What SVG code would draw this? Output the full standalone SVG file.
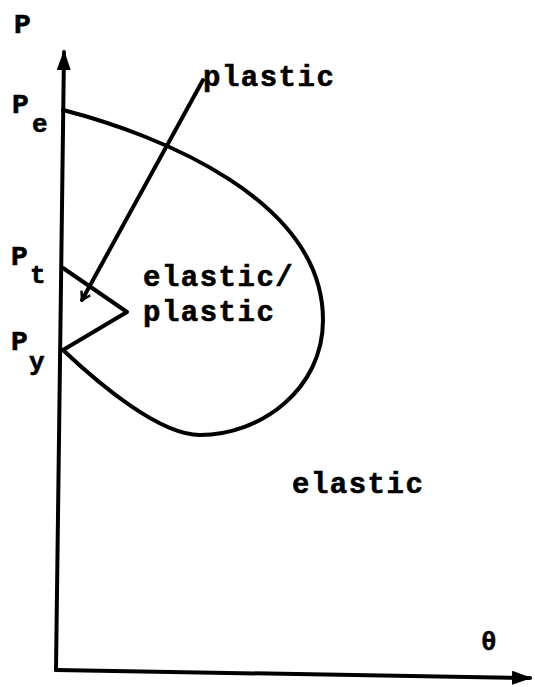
<svg xmlns="http://www.w3.org/2000/svg" width="535" height="687" viewBox="0 0 535 687">
<style>
  .ln { fill: none; stroke: #000; stroke-width: 4; stroke-linecap: round; stroke-linejoin: round; }
  .lbl { font-family: "Liberation Mono", "Courier New", monospace; font-weight: bold; fill: #000; stroke: #000; stroke-width: 0.6; }
  .big { font-size: 29px; letter-spacing: 1.5px; }
  .p { font-size: 28px; }
  .sub { font-size: 26px; }
</style>
<defs>
  <marker id="fill" viewBox="0 0 20 14" refX="18" refY="7" markerWidth="20" markerHeight="14" markerUnits="userSpaceOnUse" orient="auto">
    <path d="M0,0 L20,7 L0,14 Z" fill="#000"/>
  </marker>
  <marker id="open" viewBox="0 0 12 12" refX="10" refY="6" markerWidth="12" markerHeight="12" markerUnits="userSpaceOnUse" orient="auto">
    <path d="M2,1 L10,6 L2,11" fill="none" stroke="#000" stroke-width="2.5"/>
  </marker>
</defs>
<rect width="535" height="687" fill="#fff"/>
<g id="connectors">
  <line id="y-axis" class="ln" x1="56" y1="670" x2="64" y2="52" marker-end="url(#fill)"/>
  <line id="x-axis" class="ln" x1="56" y1="670" x2="530" y2="678" marker-end="url(#fill)"/>
  <path id="leader" class="ln" stroke-width="3.5" d="M203,80 L82,300" marker-end="url(#open)"/>
</g>
<g id="boundary">
  <path class="ln" d="M63,110 C160,135 323,200 323,320 C323,390 260,435 200,435 C160,435 100,385 63,350"/>
</g>
<g id="triangle">
  <path class="ln" d="M63,268 L127,312 L63,350"/>
</g>
<g id="labels">
  <text class="lbl p" x="14" y="33">P</text>
  <text class="lbl p" x="12" y="113">P</text><text class="lbl sub" x="32" y="132">e</text>
  <text class="lbl p" x="11" y="265">P</text><text class="lbl sub" x="30" y="283">t</text>
  <text class="lbl p" x="11" y="350">P</text><text class="lbl sub" x="29" y="370">y</text>
  <text class="lbl big" x="203" y="86">plastic</text>
  <text class="lbl big" x="143" y="286">elastic/</text>
  <text class="lbl big" x="143" y="321">plastic</text>
  <text class="lbl big" x="292" y="493">elastic</text>
  <text class="lbl" style="font-size:26px" x="481" y="650">θ</text>
</g>
</svg>
